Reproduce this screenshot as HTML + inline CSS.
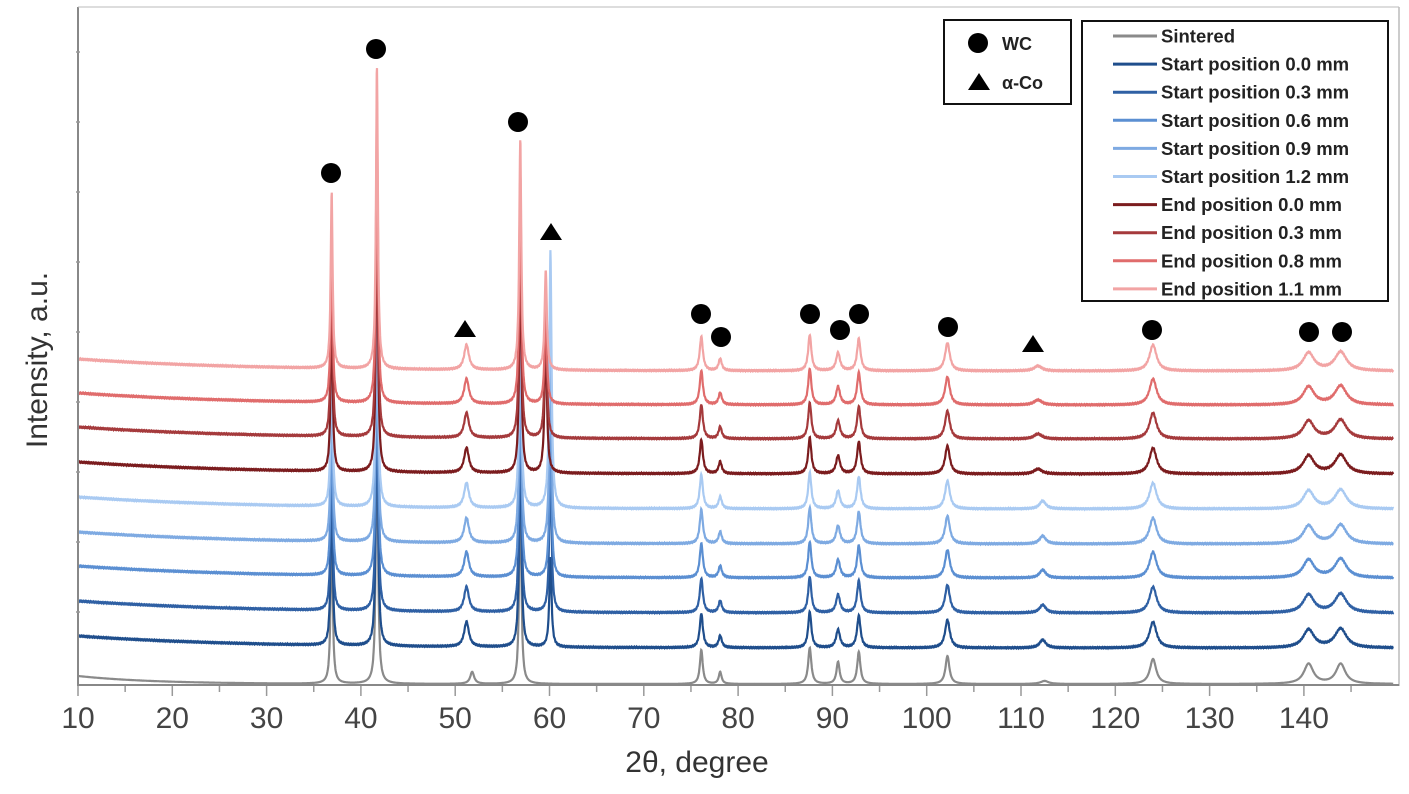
<!DOCTYPE html>
<html><head><meta charset="utf-8">
<style>
body{margin:0;background:#fff;}
svg{display:block;font-family:"Liberation Sans",Arial,sans-serif;}
</style></head>
<body>
<svg id="s" width="1409" height="794" viewBox="0 0 1409 794">
<rect width="1409" height="794" fill="#fff"/>
<g id="plot"></g>
<g stroke="#888" stroke-width="2" fill="none">
<line x1="78" y1="7" x2="78" y2="686"/>
<line x1="78" y1="7" x2="1399" y2="7" stroke="#bbb" stroke-width="1"/>
<line x1="1399" y1="7" x2="1399" y2="686" stroke="#bbb" stroke-width="1.5"/>
<line x1="78" y1="685" x2="1399" y2="685"/>
</g>
<g id="ticks" stroke="#999" stroke-width="1.5"></g>
<g id="labels" font-size="30" fill="#444" text-anchor="middle"></g>
<text x="697" y="772" font-size="30" fill="#333" text-anchor="middle">2θ, degree</text>
<text transform="translate(47,360) rotate(-90)" font-size="30" fill="#333" text-anchor="middle">Intensity, a.u.</text>
<g id="marks" fill="#000"></g>
<rect x="944" y="20" width="127" height="84" fill="#fff" stroke="#111" stroke-width="2"/>
<circle cx="978" cy="43" r="10" fill="#000"/>
<text x="1002" y="50" font-size="18" font-weight="bold" fill="#222">WC</text>
<polygon points="979,73 990,90 968,90" fill="#000"/>
<text x="1002" y="89" font-size="18" font-weight="bold" fill="#222">α-Co</text>
<rect x="1082" y="21" width="306" height="280" fill="#fff" stroke="#111" stroke-width="2"/>
<g id="leg" font-size="18.5" font-weight="bold" fill="#222"></g>
</svg>
<script>
const X=d=>78+(d-10)*9.43;
const series=[
 ["Sintered","#8a8a8a",684,0],
 ["Start position 0.0 mm","#1f4e8c",648,1],
 ["Start position 0.3 mm","#2f60a4",613,1],
 ["Start position 0.6 mm","#5b8fd2",578,1],
 ["Start position 0.9 mm","#7eaae2",544,1],
 ["Start position 1.2 mm","#a9caf2",509,1],
 ["End position 0.0 mm","#7b1c1e",474,2],
 ["End position 0.3 mm","#a53a3c",439,2],
 ["End position 0.8 mm","#e06c6c",405,2],
 ["End position 1.1 mm","#f2a4a4",371,2]
];
const wc=[[36.9,176,0.12],[41.7,303,0.12],[51.2,25,0.3],[56.9,231,0.13],[76.1,34,0.2],[78.1,12,0.2],[87.6,36,0.2],[90.6,18,0.25],[92.8,32,0.22],[102.2,28,0.3],[124.0,26,0.45],[140.5,18,0.7],[143.9,19,0.75]];
const sint=[[36.9,176,0.12],[41.7,303,0.12],[51.8,12,0.25],[56.9,231,0.12],[76.1,34,0.18],[78.1,12,0.18],[87.6,36,0.2],[90.6,22,0.2],[92.8,32,0.2],[102.2,28,0.25],[112.5,3,0.5],[124.0,25,0.4],[140.5,20,0.6],[143.9,20,0.6]];
let html="";
series.forEach((s,i)=>{
 let pk=s[3]==0?sint:wc.slice();
 if(s[3]==1){pk=pk.concat([[60.1,i==5?257:(i==4?200:(i==1?90:150)),0.14],[112.3,8,0.4]]);}
 if(s[3]==2){pk=pk.concat([[59.6,i==6?150:(i==7?130:100),0.14],[111.8,5,0.5]]);}
 let d="";
 for(let t=10;t<=149.5;t+=0.03){
  let y=s[2];
  if(s[3]==0) y-=8*Math.exp(-(t-10)/8);
  else y-=12*Math.exp(-(t-10)/18);
  for(const p of pk){const u=(t-p[0])/p[2];y-=p[1]/(1+u*u);}
  if(s[3]>0) y+=Math.sin(t*37+i)*0.6;
  d+=(d?"L":"M")+X(t).toFixed(1)+","+Math.max(y,0).toFixed(1);
 }
 html+=`<path d="${d}" fill="none" stroke="${s[1]}" stroke-width="2.2"/>`;
});
document.getElementById("plot").innerHTML=html;
let tk="",lb="";
for(let v=10;v<=145;v+=5){const x=X(v);tk+=`<line x1="${x}" y1="686" x2="${x}" y2="${v%10==0?696:692}"/>`;if(v%10==0)lb+=`<text x="${x}" y="728">${v}</text>`;}
for(let y=52;y<680;y+=70)tk+=`<line x1="76" y1="${y}" x2="80" y2="${y}"/>`;
document.getElementById("ticks").innerHTML=tk;
document.getElementById("labels").innerHTML=lb;
let m="";
[[331,173],[376,49],[518,122],[701,314],[721,337],[810,314],[840,330],[859,314],[948,327],[1152,330],[1309,332],[1342,332]].forEach(c=>m+=`<circle cx="${c[0]}" cy="${c[1]}" r="10"/>`);
[[465,330],[551,233],[1033,345]].forEach(c=>m+=`<polygon points="${c[0]},${c[1]-10} ${c[0]+11},${c[1]+7} ${c[0]-11},${c[1]+7}"/>`);
document.getElementById("marks").innerHTML=m;
let lg="";
series.forEach((s,i)=>{const y=36+i*28.1;lg+=`<line x1="1113" y1="${y}" x2="1157" y2="${y}" stroke="${s[1]}" stroke-width="3"/><text x="1161" y="${y+6.5}">${s[0]}</text>`;});
document.getElementById("leg").innerHTML=lg;
</script>
</body></html>
